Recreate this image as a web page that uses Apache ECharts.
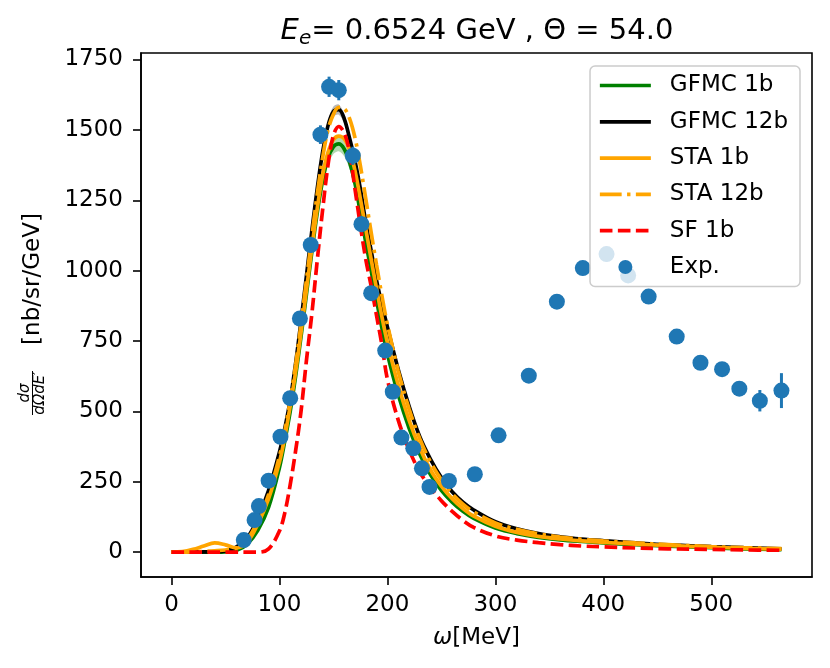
<!DOCTYPE html>
<html lang="en">
<head>
<meta charset="UTF-8">
<title>Ee = 0.6524 GeV, Theta = 54.0</title>
<style>html,body{margin:0;padding:0;background:#fff}</style>
</head>
<body>
<div id="chart" style="width:830px;height:668px"></div>
<script src="https://cdn.jsdelivr.net/npm/echarts@6/dist/echarts.min.js"></script>
<script>
// energy transfer grid shared by all theory curves (MeV)
var omega = [0, 10, 20, 30, 40, 50, 60, 70, 80, 90,
    100, 105, 110, 115, 120, 125, 130, 135, 140, 145,
    150, 155, 160, 165, 170, 175, 180, 185, 190, 195,
    200, 210, 220, 230, 240, 250, 260, 270, 280, 300,
    320, 340, 360, 380, 400, 430, 460, 500, 530, 565];

var gfmc1b = [0, 0, 0, 0, 0, 1, 6, 28, 78, 160,
    300, 395, 500, 625, 765, 915, 1065, 1205, 1320, 1400,
    1440, 1450, 1432, 1385, 1310, 1205, 1100, 1000, 895, 795,
    705, 560, 442, 348, 275, 220, 178, 145, 120, 86,
    66, 53, 44, 38, 33, 27, 22, 16, 12, 9];
var gfmc1bBand = [0, 0, 0, 0, 0, 0, 1, 2, 4, 6,
    9, 11, 13, 15, 18, 20, 22, 24, 25, 26,
    26, 26, 26, 25, 24, 22, 20, 18, 16, 14,
    13, 11, 9, 7, 6, 5, 4, 3, 3, 2,
    2, 2, 1, 1, 1, 1, 1, 1, 1, 1];

var gfmc12b = [0, 0, 0, 1, 2, 5, 18, 50, 120, 220,
    355, 440, 540, 670, 820, 980, 1140, 1290, 1420, 1515,
    1565, 1572, 1540, 1470, 1390, 1290, 1170, 1070, 965, 880,
    800, 650, 520, 410, 330, 265, 215, 178, 150, 108,
    83, 66, 55, 47, 41, 33, 26, 20, 16, 12];
var gfmc12bBand = [0, 0, 0, 0, 0, 0, 1, 2, 3, 5,
    7, 8, 10, 11, 13, 14, 15, 16, 17, 18,
    18, 18, 17, 17, 16, 15, 14, 13, 12, 11,
    10, 8, 7, 6, 5, 4, 3, 3, 2, 2,
    2, 1, 1, 1, 1, 1, 1, 1, 1, 1];

var sta1b = [0, 2, 10, 22, 33, 26, 15, 35, 100, 190,
    320, 410, 520, 640, 780, 930, 1080, 1220, 1340, 1420,
    1465, 1478, 1468, 1428, 1355, 1255, 1148, 1040, 935, 835,
    745, 595, 470, 370, 292, 235, 190, 155, 128, 92,
    70, 56, 47, 40, 35, 29, 24, 18, 14, 11];

var sta12b = [0, 0, 1, 3, 5, 8, 15, 45, 110, 205,
    340, 430, 540, 665, 810, 965, 1120, 1270, 1400, 1500,
    1555, 1580, 1576, 1540, 1472, 1372, 1255, 1135, 1020, 910,
    810, 645, 510, 403, 320, 257, 208, 171, 143, 104,
    81, 65, 54, 46, 40, 33, 27, 20, 16, 13];

var sf1b = [0, 0, 0, 0, 0, 0, 0, 0, 0, 12,
    75, 140, 240, 360, 500, 680, 845, 1035, 1215, 1375,
    1480, 1512, 1490, 1420, 1290, 1160, 1040, 945, 840, 735,
    615, 470, 365, 285, 230, 183, 145, 113, 88, 58,
    43, 34, 27, 22, 19, 15, 12, 10, 8, 7];

// experimental points
var expOmega = [67, 77, 81, 90, 101, 110, 119, 129, 138, 146,
    155, 168, 176, 185, 198, 205, 213, 224, 232, 239,
    257, 281, 303, 331, 357, 381, 403, 423, 442, 468,
    490, 510, 526, 545, 565];
var expXs = [43, 114, 164, 254, 410, 547, 830, 1091, 1483, 1653,
    1641, 1408, 1165, 920, 716, 570, 407, 369, 298, 232,
    253, 277, 415, 627, 890, 1009, 1059, 983, 908, 766,
    673, 650, 581, 538, 574];
var expErr = [5, 6, 8, 10, 14, 17, 22, 27, 33, 36,
    36, 32, 28, 24, 20, 17, 14, 13, 11, 10,
    10, 11, 14, 18, 22, 25, 26, 25, 24, 22,
    22, 24, 26, 38, 62];

var xTicks = [0, 100, 200, 300, 400, 500];
var yTicks = [0, 250, 500, 750, 1000, 1250, 1500, 1750];

var FONT = 'DejaVu Sans';
var LW = 3.7;

function pairs(ys) {
    return omega.map(function (x, i) { return [x, ys[i]]; });
}

function bandRenderer(center, half, color) {
    return function (params, api) {
        var pts = [];
        for (var i = 0; i < omega.length; i++) {
            pts.push(api.coord([omega[i], center[i] + half[i]]));
        }
        for (var j = omega.length - 1; j >= 0; j--) {
            pts.push(api.coord([omega[j], center[j] - half[j]]));
        }
        return {
            type: 'polygon',
            shape: { points: pts, smooth: 0.3 },
            style: { fill: color }
        };
    };
}

function lineSeries(name, ys, color, type) {
    return {
        name: name,
        type: 'line',
        data: pairs(ys),
        showSymbol: false,
        symbol: 'none',
        smooth: 0.35,
        animation: false,
        lineStyle: { color: color, width: LW, type: type || 'solid' },
        itemStyle: { color: color },
        z: 3
    };
}

function legendLine(name, color, type) {
    return {
        name: name,
        itemStyle: { opacity: 0 },
        lineStyle: { color: color, width: LW, type: type || 'solid' }
    };
}

var chart = echarts.init(document.getElementById('chart'));

var option = {
    backgroundColor: '#fff',
    animation: false,
    textStyle: { fontFamily: FONT },
    grid: {
        left: 141, right: 18, top: 53, bottom: 91,
        show: true, borderColor: '#000', borderWidth: 1.6, backgroundColor: 'transparent'
    },
    xAxis: {
        type: 'value',
        min: -28.2,
        max: 593.3,
        name: '{i|ω}[MeV]',
        nameLocation: 'middle',
        nameGap: 50,
        nameTextStyle: {
            fontSize: 23, color: '#000', fontFamily: FONT,
            rich: { i: { fontSize: 23, fontStyle: 'italic', fontFamily: FONT, color: '#000' } }
        },
        axisLine: { show: true, onZero: false, lineStyle: { color: '#000', width: 1.6 } },
        axisTick: { show: true, length: 8, customValues: xTicks, lineStyle: { color: '#000', width: 1.6 } },
        axisLabel: {
            customValues: xTicks, fontSize: 23, color: '#000', margin: 17, fontFamily: FONT,
            formatter: function (v) { return String(v); }
        },
        splitLine: { show: false }
    },
    yAxis: {
        type: 'value',
        min: -88,
        max: 1773,
        axisLine: { show: true, onZero: false, lineStyle: { color: '#000', width: 1.6 } },
        axisTick: { show: true, length: 8, customValues: yTicks, lineStyle: { color: '#000', width: 1.6 } },
        axisLabel: {
            customValues: yTicks, fontSize: 23, color: '#000', margin: 18, fontFamily: FONT,
            formatter: function (v) { return String(v); }
        },
        splitLine: { show: false }
    },
    legend: {
        orient: 'vertical',
        right: 30,
        top: 66,
        itemWidth: 51,
        itemHeight: 14,
        itemGap: 13.3,
        padding: [8, 12, 8, 8],
        backgroundColor: 'rgba(255,255,255,0.8)',
        borderColor: '#cccccc',
        borderWidth: 1.5,
        borderRadius: 5,
        textStyle: { fontSize: 23, lineHeight: 22, color: '#000', fontFamily: FONT, padding: [0, 0, 0, 14] },
        data: [
            legendLine('GFMC 1b', '#008000'),
            legendLine('GFMC 12b', '#000000'),
            legendLine('STA 1b', '#ffa500'),
            legendLine('STA 12b', '#ffa500', [21.8, 5.4, 3.4, 5.4]),
            legendLine('SF 1b', '#ff0000', [12.6, 5.4]),
            { name: 'Exp.', icon: 'circle', itemStyle: { opacity: 1, color: '#1f77b4' } }
        ],
        z: 10
    },
    graphic: [
        {
            type: 'text', x: 477, y: 31,
            style: {
                text: '{i|E}{s|e}{n|= 0.6524 GeV , Θ = 54.0}',
                textAlign: 'center', textVerticalAlign: 'middle',
                align: 'center', verticalAlign: 'middle',
                fill: '#000',
                rich: {
                    i: { fontSize: 29, fontStyle: 'italic', fontFamily: FONT, lineHeight: 35 },
                    s: { fontSize: 20, fontStyle: 'italic', fontFamily: FONT, lineHeight: 20, padding: [15, 0, 0, 0] },
                    n: { fontSize: 29, fontFamily: FONT, lineHeight: 35 }
                }
            }
        },
        {
            type: 'text', x: 33, y: 279, rotation: Math.PI / 2,
            style: {
                text: '[nb/sr/GeV]', fontSize: 23, fontFamily: FONT, fill: '#000',
                textAlign: 'center', textVerticalAlign: 'middle', align: 'center', verticalAlign: 'middle'
            }
        },
        {
            type: 'text', x: 25.5, y: 393, rotation: Math.PI / 2,
            style: {
                text: 'dσ', fontSize: 15, fontStyle: 'italic', fontFamily: FONT, fill: '#000',
                textAlign: 'center', textVerticalAlign: 'middle', align: 'center', verticalAlign: 'middle'
            }
        },
        {
            type: 'line',
            shape: { x1: 32.5, y1: 371, x2: 32.5, y2: 415 },
            style: { stroke: '#000', lineWidth: 1 }
        },
        {
            type: 'text', x: 40, y: 393, rotation: Math.PI / 2,
            style: {
                text: 'dΩdE′', fontSize: 15, fontStyle: 'italic', fontFamily: FONT, fill: '#000',
                textAlign: 'center', textVerticalAlign: 'middle', align: 'center', verticalAlign: 'middle'
            }
        }
    ],
    series: [
        {
            name: 'GFMC 1b band',
            type: 'custom',
            data: [[0, 0]],
            clip: true,
            silent: true,
            renderItem: bandRenderer(gfmc1b, gfmc1bBand, 'rgba(0,128,0,0.3)'),
            z: 2
        },
        lineSeries('GFMC 1b', gfmc1b, '#008000'),
        {
            name: 'GFMC 12b band',
            type: 'custom',
            data: [[0, 0]],
            clip: true,
            silent: true,
            renderItem: bandRenderer(gfmc12b, gfmc12bBand, 'rgba(128,128,128,0.55)'),
            z: 2
        },
        lineSeries('GFMC 12b', gfmc12b, '#000000'),
        lineSeries('STA 1b', sta1b, '#ffa500'),
        lineSeries('STA 12b', sta12b, '#ffa500', [21.8, 5.4, 3.4, 5.4]),
        lineSeries('SF 1b', sf1b, '#ff0000', [12.6, 5.4]),
        {
            name: 'Exp. err',
            type: 'custom',
            clip: true,
            silent: true,
            data: expOmega.map(function (x, i) { return [x, expXs[i], expErr[i]]; }),
            encode: { x: 0, y: 1 },
            renderItem: function (params, api) {
                var x = api.value(0), y = api.value(1), e = api.value(2);
                var a = api.coord([x, y - e]);
                var b = api.coord([x, y + e]);
                return {
                    type: 'line',
                    shape: { x1: a[0], y1: a[1], x2: b[0], y2: b[1] },
                    style: { stroke: '#1f77b4', lineWidth: 3 }
                };
            },
            z: 5
        },
        {
            name: 'Exp.',
            type: 'scatter',
            data: expOmega.map(function (x, i) { return [x, expXs[i]]; }),
            symbol: 'circle',
            symbolSize: 16,
            itemStyle: { color: '#1f77b4', opacity: 1 },
            z: 6
        }
    ]
};

chart.setOption(option);
</script>
</body>
</html>
